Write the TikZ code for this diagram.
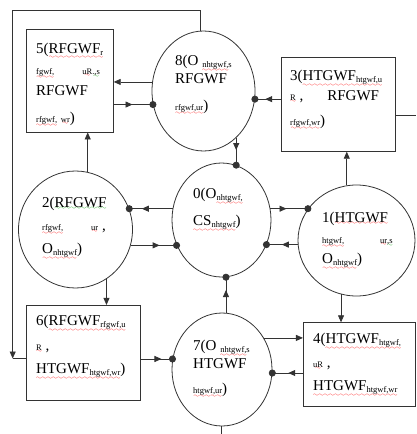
\documentclass[tikz,border=0pt]{standalone}
\usepackage{fontspec}
\setmainfont{Liberation Serif}
\usetikzlibrary{shapes.geometric, arrows.meta, decorations.markings, positioning}
\font\wavefnt=lasy6
\newsavebox{\wvbox}
\newcommand{\wv}[2]{\sbox{\wvbox}{#2}\rlap{\textcolor{#1}{\lower\dimexpr\dp\wvbox+2.5pt\relax\hbox to \wd\wvbox{\xleaders\hbox{\wavefnt\char58}\hfill}}}\usebox{\wvbox}}
\newcommand{\sq}[1]{\wv{red}{#1}}
\newcommand{\gq}[1]{\wv{green!60!black}{#1}}
\newcommand{\lo}[1]{\raisebox{-2.5pt}{\fontsize{8.5}{8.5}\selectfont #1}}
\newcommand{\sm}[1]{{\fontsize{8.5}{8.5}\selectfont #1}}

\begin{document}
\begin{tikzpicture}[x=1pt, y=-1pt,
    stell/.style={ellipse, draw=black!80, line width=0.8pt, inner sep=0pt},
    stbox/.style={rectangle, draw=black!80, line width=0.8pt, inner sep=0pt},
    txt/.style={anchor=base west, align=left, inner sep=0pt, font=\fontsize{15}{21}\selectfont},
    conn/.style={draw=black!80, line width=0.8pt},
    arr/.style={-{Triangle[length=7pt,width=6pt]}},
    blob/.style={-{Circle[length=7pt]}, shorten >=-3.5pt},
    midtip/.style={postaction={decorate}, decoration={markings,
        mark=at position #1 with {\arrow{Triangle[length=7pt,width=6pt]}}}}]
    \useasboundingbox (0,0) rectangle (416,434);

    % States (circles) and boxes
    \node[stell, minimum width=103pt, minimum height=120pt] (c8) at (203.5,91) {};
    \node[stell, minimum width=99pt, minimum height=114pt] (c0) at (221.5,220) {};
    \node[stell, minimum width=114pt, minimum height=117pt] (c2) at (75.5,229.5) {};
    \node[stell, minimum width=117pt, minimum height=111pt] (c1) at (356.5,240.5) {};
    \node[stell, minimum width=100pt, minimum height=113pt] (c7) at (222,369.5) {};
    \node[stbox, minimum width=86.6pt, minimum height=102.7pt] (b5) at (70,80.7) {};
    \node[stbox, minimum width=114.7pt, minimum height=93.6pt] (b3) at (338.3,104.5) {};
    \node[stbox, minimum width=114pt, minimum height=94.7pt] (b6) at (83.7,352.7) {};
    \node[stbox, minimum width=111.7pt, minimum height=84pt] (b4) at (359.2,364.7) {};

    % Labels (placed at the baseline of their last line)
    \node[txt] (t5) at (36,122) {5(\sq{RFGWF\lo{r}}\\
        \sq{\sm{fgwf,}}\hspace{28pt}\sq{\sm{uR}}\gq{\sm{.,s}}\\
        RFGWF\\[6pt]
        \sq{\sm{rfgwf,}} \sq{\sm{wr}})};
    \node[txt] (t8) at (175,110) {8(O \sq{\lo{nhtgwf,}}\gq{\lo{s}}\\[-3pt]
        RFGWF\\[6pt]
        \sq{\sm{rfgwf,ur}})};
    \node[txt] (t3) at (290,125) {3(\sq{HTGWF\lo{htgwf,u}}\\[-1pt]
        \sq{\sm{R}} ,\hspace{24pt}RFGWF\\[4pt]
        \sq{\sm{rfgwf,wr}})};
    \node[txt] (t2) at (42,253) {2(\gq{RFGWF}\\[2pt]
        \sq{\sm{rfgwf,}}\hspace{28pt}\sq{\sm{ur}} ,\\[2pt]
        \sq{O\lo{nhtgwf}})};
    \node[txt] (t0) at (193,225) {0(O\sq{\lo{nhtgwf,}}\\[6pt]
        \sq{CS\lo{nhtgwf}})};
    \node[txt] (t1) at (322,263) {1(\sq{HTGWF}\\
        \sq{\sm{htgwf,}}\hspace{36pt}\sq{\sm{ur}}\gq{\sm{,s}}\\[-1pt]
        \sq{O\lo{nhtgwf}})};
    \node[txt] (t6) at (36,373) {6(\sq{RFGWF\lo{rfgwf,u}}\\[4pt]
        \sq{\sm{R}} ,\\[2pt]
        \sq{HTGWF\lo{htgwf,wr}})};
    \node[txt] (t7) at (193,393) {7(O \sq{\lo{nhtgwf,}}\gq{\lo{s}}\\[-3pt]
        HTGWF\\[4pt]
        \sq{\sm{htgwf,ur}})};
    \node[txt] (t4) at (313,390) {4(\sq{HTGWF\lo{htgwf,}}\\[3pt]
        \sq{\sm{uR}} ,\\[2pt]
        \sq{HTGWF\lo{htgwf,wr}}};

    % Free ends of the long lines
    \coordinate (ctl) at (12.7,10);
    \coordinate (cbl) at (12.7,358.5);
    \coordinate (rtend) at (416,115);
    \coordinate (btend) at (220.7,434);

    % Connectors
    \draw[conn,arr] (c8.170) -- (c8.170 -| b5.east);
    \draw[conn,blob,midtip=0.48] (b5.east |- c8.195) -- (c8.195);
    \draw[conn,blob,midtip=0.6] (b3.west |- c8.-9) -- (c8.-9);
    \draw[conn,blob,midtip=0.45] (c0.75 |- c8.-55) -- (c0.75);
    \draw[conn,blob,midtip=0.71] (c0.167) -- (c0.167 -| c2.21);
    \draw[conn,blob,midtip=0.63] (c2.-16) -- (c2.-16 -| c0.209);
    \draw[conn,blob,midtip=0.43] (c0.13) -- (c0.13 -| c1.147);
    \draw[conn,blob,midtip=0.51] (c1.184) -- (c1.184 -| c0.-29);
    \draw[conn,blob,midtip=0.64] (c7.86) -- (c7.86 |- c0.-86);
    \draw[conn,arr] (c2.78) -- (c2.78 |- b5.south);
    \draw[conn,arr] (c2.-58) -- (c2.-58 |- b6.north);
    \draw[conn,arr] (c1.100) -- (c1.100 |- b3.south);
    \draw[conn,arr] (c1.-106) -- (c1.-106 |- b4.north);
    \draw[conn,blob,midtip=0.65] (b6.east |- c7.168) -- (c7.168);
    \draw[conn,arr] (c7.37) -- (c7.37 -| b4.west);
    \draw[conn,blob,midtip=0.48] (b4.west |- c7.-4) -- (c7.-4);

    % Outer lines
    \draw[conn,arr] (c8.93) |- (ctl) -- (cbl);
    \draw[conn] (cbl) -- (cbl -| b6.west);
    \draw[conn] (b3.east |- rtend) -- (rtend);
    \draw[conn] (c7.-91) -- (c7.-91 |- btend);
\end{tikzpicture}
\end{document}
